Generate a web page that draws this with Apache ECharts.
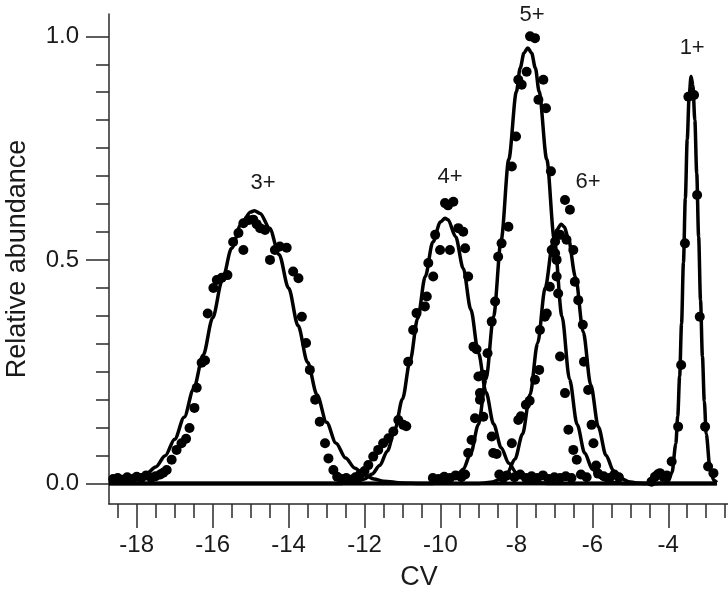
<!DOCTYPE html>
<html>
<head>
<meta charset="utf-8">
<script src="https://cdn.jsdelivr.net/npm/echarts@6/dist/echarts.min.js"></script>
<style>
  html, body { margin: 0; padding: 0; background: #fff; }
  #chart { width: 728px; height: 592px; }
</style>
</head>
<body>
<div id="chart"></div>
<script>
// tick positions
var cvTicks = [-18, -16, -14, -12, -10, -8, -6, -4];
var cvMinorTicks = [-18.5, -18, -17.5, -17, -16.5, -16, -15.5, -15, -14.5, -14, -13.5, -13, -12.5, -12,
    -11.5, -11, -10.5, -10, -9.5, -9, -8.5, -8, -7.5, -7, -6.5, -6, -5.5, -5, -4.5, -4, -3.5, -3, -2.5];
var abundanceTicks = [0, 0.5, 1.0];
var abundanceMinorTicks = [0, 0.0625, 0.125, 0.1875, 0.25, 0.3125, 0.375, 0.4375, 0.5,
    0.5625, 0.625, 0.6875, 0.75, 0.8125, 0.875, 0.9375, 1.0];

// fitted curves
var fit3 = [[-18.73, 0], [-18.5, 0.003], [-18.0, 0.0115], [-17.75, 0.021], [-17.5, 0.037], [-17.25, 0.062],
    [-17.0, 0.099], [-16.75, 0.148], [-16.5, 0.212], [-16.25, 0.287], [-16.0, 0.370], [-15.75, 0.453],
    [-15.5, 0.526], [-15.25, 0.580], [-15.0, 0.607], [-14.9, 0.610], [-14.75, 0.604], [-14.5, 0.571],
    [-14.25, 0.512], [-14.0, 0.437], [-13.75, 0.353], [-13.5, 0.271], [-13.25, 0.198], [-13.0, 0.137],
    [-12.75, 0.090], [-12.5, 0.057], [-12.25, 0.034], [-12.0, 0.019], [-11.75, 0.010], [-11.5, 0.005],
    [-11.0, 0.001], [-10.5, 0], [-2.72, 0]];
var fit4 = [[-18.73, 0], [-12.6, 0], [-12.4, 0.002], [-12.2, 0.004], [-12.0, 0.010], [-11.8, 0.021],
    [-11.6, 0.040], [-11.4, 0.072], [-11.2, 0.121], [-11.0, 0.189], [-10.8, 0.274], [-10.6, 0.369],
    [-10.4, 0.463], [-10.2, 0.540], [-10.0, 0.585], [-9.88, 0.593], [-9.8, 0.590], [-9.6, 0.552],
    [-9.4, 0.481], [-9.2, 0.389], [-9.0, 0.292], [-8.8, 0.204], [-8.6, 0.133], [-8.4, 0.080],
    [-8.2, 0.045], [-8.0, 0.024], [-7.8, 0.011], [-7.6, 0.005], [-7.4, 0.002], [-7.2, 0], [-2.72, 0]];
var fit5 = [[-18.73, 0], [-10.2, 0], [-10.0, 0.002], [-9.8, 0.005], [-9.6, 0.014], [-9.4, 0.032],
    [-9.2, 0.068], [-9.0, 0.132], [-8.8, 0.233], [-8.6, 0.374], [-8.4, 0.545], [-8.2, 0.725],
    [-8.0, 0.876], [-7.9, 0.929], [-7.8, 0.963], [-7.7, 0.974], [-7.6, 0.963], [-7.5, 0.929],
    [-7.4, 0.876], [-7.2, 0.725], [-7.0, 0.545], [-6.8, 0.374], [-6.6, 0.233], [-6.4, 0.132],
    [-6.2, 0.068], [-6.0, 0.032], [-5.8, 0.014], [-5.6, 0.005], [-5.4, 0.002], [-5.2, 0], [-2.72, 0]];
var fit6 = [[-18.73, 0], [-9.0, 0], [-8.84, 0.001], [-8.64, 0.003], [-8.44, 0.009], [-8.24, 0.023],
    [-8.04, 0.054], [-7.84, 0.110], [-7.64, 0.199], [-7.44, 0.314], [-7.24, 0.438], [-7.04, 0.537],
    [-6.94, 0.567], [-6.82, 0.580], [-6.74, 0.574], [-6.64, 0.551], [-6.44, 0.461], [-6.24, 0.339],
    [-6.04, 0.220], [-5.84, 0.126], [-5.64, 0.063], [-5.44, 0.028], [-5.24, 0.011], [-5.04, 0.004],
    [-4.84, 0.001], [-4.6, 0], [-2.72, 0]];
var fit1 = [[-18.73, 0], [-4.3, 0], [-4.1, 0.001], [-4.0, 0.005], [-3.9, 0.025], [-3.8, 0.089],
    [-3.75, 0.151], [-3.7, 0.240], [-3.65, 0.357], [-3.6, 0.494], [-3.55, 0.638], [-3.5, 0.770],
    [-3.45, 0.866], [-3.4, 0.910], [-3.35, 0.890], [-3.3, 0.813], [-3.25, 0.694], [-3.2, 0.552],
    [-3.15, 0.410], [-3.1, 0.284], [-3.05, 0.184], [-3.0, 0.111], [-2.9, 0.033], [-2.8, 0.007],
    [-2.72, 0.002]];

// measured points
var dots = [
    [-18.62, 0.010], [-18.5, 0.012], [-18.38, 0.008], [-18.25, 0.014], [-18.12, 0.010], [-18.0, 0.015],
    [-17.88, 0.012], [-17.75, 0.018], [-17.62, 0.013], [-17.5, 0.016], [-17.38, 0.020], [-17.3, 0.024],
    [-17.21, 0.030], [-17.08, 0.053], [-16.95, 0.075], [-16.82, 0.090], [-16.70, 0.100], [-16.61, 0.124],
    [-16.48, 0.169], [-16.42, 0.214], [-16.29, 0.270], [-16.20, 0.275], [-16.13, 0.380], [-15.98, 0.437],
    [-15.89, 0.455], [-15.76, 0.460], [-15.61, 0.466], [-15.46, 0.540], [-15.32, 0.560], [-15.19, 0.522],
    [-15.19, 0.582], [-15.06, 0.589], [-14.93, 0.590], [-14.84, 0.580], [-14.75, 0.571], [-14.62, 0.567],
    [-14.49, 0.500], [-14.36, 0.522], [-14.23, 0.530], [-14.05, 0.527], [-13.88, 0.474], [-13.74, 0.459],
    [-13.65, 0.373], [-13.54, 0.314], [-13.44, 0.254], [-13.30, 0.187], [-13.18, 0.138], [-13.04, 0.090],
    [-12.95, 0.056], [-12.82, 0.030],
    [-12.72, 0.015], [-12.6, 0.010], [-12.48, 0.012], [-12.36, 0.008], [-12.24, 0.014], [-12.12, 0.020],
    [-12.0, 0.028],
    [-11.90, 0.041], [-11.77, 0.060], [-11.64, 0.075], [-11.51, 0.090], [-11.37, 0.101], [-11.24, 0.116],
    [-11.11, 0.142], [-10.98, 0.131], [-10.90, 0.128], [-10.85, 0.272], [-10.72, 0.343], [-10.63, 0.381],
    [-10.41, 0.396], [-10.36, 0.418], [-10.32, 0.493], [-10.19, 0.463], [-10.14, 0.556], [-10.01, 0.522],
    [-9.88, 0.627], [-9.80, 0.622], [-9.75, 0.522], [-9.66, 0.630], [-9.53, 0.571], [-9.40, 0.563],
    [-9.35, 0.526], [-9.27, 0.463], [-9.13, 0.306], [-9.05, 0.300], [-9.00, 0.239], [-8.96, 0.187],
    [-8.87, 0.149], [-8.65, 0.105], [-8.61, 0.068], [-8.52, 0.066],
    [-10.2, 0.012], [-10.05, 0.010], [-9.9, 0.015], [-9.75, 0.012], [-9.6, 0.018], [-9.45, 0.014],
    [-9.35, 0.020], [-8.45, 0.020], [-8.35, 0.012], [-8.25, 0.018], [-8.05, 0.014], [-7.9, 0.020],
    [-7.75, 0.012], [-7.6, 0.016], [-7.45, 0.012], [-7.3, 0.018], [-7.15, 0.010], [-7.0, 0.014],
    [-6.85, 0.012], [-6.7, 0.016], [-6.55, 0.012], [-6.3, 0.020], [-6.15, 0.014], [-5.85, 0.022],
    [-5.7, 0.016], [-5.55, 0.012], [-5.42, 0.020], [-5.3, 0.014],
    [-9.27, 0.068], [-9.18, 0.097], [-9.09, 0.146], [-8.96, 0.202], [-8.87, 0.243], [-8.76, 0.291],
    [-8.65, 0.362], [-8.56, 0.407], [-8.48, 0.507], [-8.39, 0.537], [-8.21, 0.574], [-8.12, 0.709],
    [-8.01, 0.776], [-7.95, 0.903], [-7.86, 0.892], [-7.73, 0.921], [-7.64, 1.000], [-7.51, 0.996],
    [-7.42, 0.858], [-7.29, 0.903], [-7.22, 0.839], [-7.09, 0.698], [-6.98, 0.515], [-6.94, 0.463],
    [-6.90, 0.425], [-6.85, 0.284], [-6.72, 0.202], [-6.63, 0.120], [-6.50, 0.075], [-6.41, 0.053],
    [-8.12, 0.090], [-7.95, 0.142], [-7.88, 0.150], [-7.75, 0.176], [-7.65, 0.185], [-7.51, 0.232],
    [-7.40, 0.254], [-7.38, 0.343], [-7.25, 0.373], [-7.20, 0.380], [-7.12, 0.440], [-7.07, 0.522],
    [-6.98, 0.541], [-6.94, 0.500], [-6.85, 0.556], [-6.72, 0.634], [-6.59, 0.612], [-6.68, 0.545],
    [-6.50, 0.522], [-6.46, 0.451], [-6.37, 0.410], [-6.25, 0.355], [-6.22, 0.272], [-6.11, 0.209],
    [-6.02, 0.131], [-5.97, 0.090], [-5.90, 0.040],
    [-4.44, 0.004], [-4.35, 0.015], [-4.28, 0.020], [-4.22, 0.023], [-4.13, 0.015], [-4.04, 0.018],
    [-3.91, 0.049], [-3.74, 0.127], [-3.66, 0.265], [-3.56, 0.537], [-3.47, 0.865], [-3.32, 0.869],
    [-3.24, 0.645], [-3.17, 0.373], [-3.03, 0.127], [-2.95, 0.038], [-2.81, 0.023]
];

// charge state labels and where they sit
var peakNames = ['3+', '4+', '5+', '6+', '1+'];
var peakLabelAt = [[-14.67, 0.672], [-9.75, 0.686], [-7.59, 1.048], [-6.11, 0.674], [-3.37, 0.975]];

var font = 'Liberation Sans, Arial, sans-serif';
var ink = '#1a1a1a';
var axisColor = '#2a2a2a';

function curve(name, data) {
    return {
        name: name,
        type: 'line',
        data: data,
        showSymbol: false,
        smooth: 0.3,
        smoothMonotone: 'x',
        lineStyle: { color: '#000', width: 3.5 },
        z: 3
    };
}

var labelData = peakNames.map(function (n, i) {
    return { name: n, value: peakLabelAt[i] };
});

var option = {
    animation: false,
    backgroundColor: '#fff',
    grid: { left: 109, top: 14, width: 620, height: 490, outerBoundsMode: 'none', containLabel: false },
    xAxis: [{
        type: 'value',
        min: -18.73,
        max: -2.40,
        name: 'CV',
        nameLocation: 'middle',
        nameGap: 60,
        nameTextStyle: { fontSize: 27, color: ink, fontFamily: font },
        axisLine: { onZero: false, lineStyle: { color: axisColor, width: 1.5 } },
        axisTick: { customValues: cvTicks, length: 24, lineStyle: { color: axisColor, width: 1.5 } },
        axisLabel: { customValues: cvTicks, margin: 29, fontSize: 24, color: ink, fontFamily: font },
        splitLine: { show: false }
    }, {
        type: 'value',
        min: -18.73,
        max: -2.40,
        position: 'bottom',
        axisLine: { show: false, onZero: false },
        axisTick: { customValues: cvMinorTicks, length: 14, lineStyle: { color: axisColor, width: 1.5 } },
        axisLabel: { show: false },
        splitLine: { show: false }
    }],
    yAxis: [{
        type: 'value',
        min: -0.046,
        max: 1.05,
        name: 'Relative abundance',
        nameLocation: 'middle',
        nameGap: 78,
        nameTextStyle: { fontSize: 27, color: ink, fontFamily: font },
        axisLine: { show: true, onZero: false, lineStyle: { color: axisColor, width: 1.5 } },
        axisTick: { customValues: abundanceTicks, length: 23, lineStyle: { color: axisColor, width: 1.5 } },
        axisLabel: {
            customValues: abundanceTicks, margin: 30, fontSize: 24, color: ink, fontFamily: font,
            formatter: function (v) { return v.toFixed(1); }
        },
        splitLine: { show: false }
    }, {
        type: 'value',
        min: -0.046,
        max: 1.05,
        position: 'left',
        axisLine: { show: false, onZero: false },
        axisTick: { show: true, customValues: abundanceMinorTicks, length: 13, lineStyle: { color: axisColor, width: 1.5 } },
        axisLabel: { show: false },
        splitLine: { show: false }
    }],
    series: [
        curve('3+', fit3),
        curve('4+', fit4),
        curve('5+', fit5),
        curve('6+', fit6),
        curve('1+', fit1),
        {
            name: 'data',
            type: 'scatter',
            data: dots,
            symbolSize: 10,
            itemStyle: { color: '#000', opacity: 1 },
            z: 4
        },
        {
            name: 'labels',
            type: 'scatter',
            data: labelData,
            symbolSize: 0,
            clip: false,
            silent: true,
            itemStyle: { opacity: 1 },
            label: {
                show: true,
                position: 'inside',
                formatter: '{b}',
                fontSize: 22,
                color: ink,
                fontFamily: font
            },
            z: 5
        }
    ]
};

var myChart = echarts.init(document.getElementById('chart'));
myChart.setOption(option);
</script>
</body>
</html>
